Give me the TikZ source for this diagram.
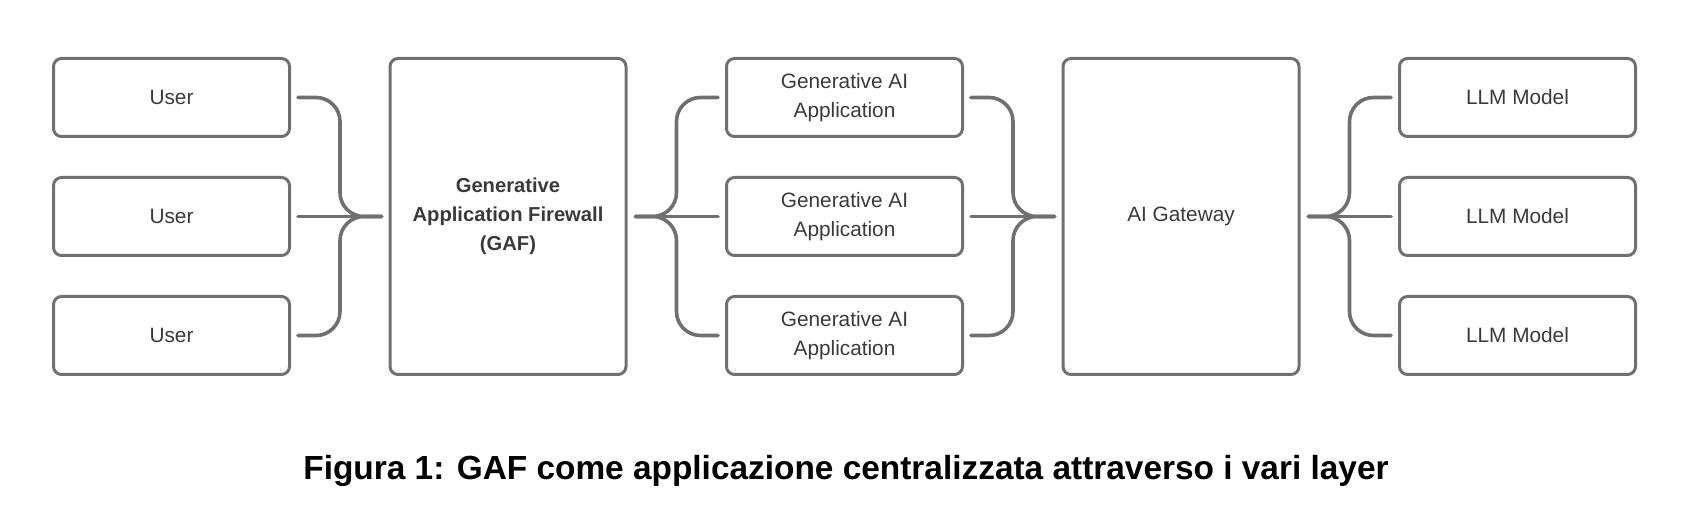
\documentclass[tikz,border=0pt]{standalone}
\usepackage{fontspec}
\setmainfont{Liberation Sans}
\usetikzlibrary{positioning}
\definecolor{boxgray}{HTML}{707070}
\definecolor{txtgray}{HTML}{3A3A3A}
\begin{document}
\begin{tikzpicture}[x=0.5pt, y=0.5pt, line join=round, line cap=round,
	box/.style={draw=boxgray, line width=1.5pt, rounded corners=4pt, minimum width=118pt, minimum height=39pt, align=center, text=txtgray, font=\fontsize{10.4}{14.6}\selectfont},
	bigbox/.style={box, minimum height=158pt},
	link/.style={draw=boxgray, line width=1.8pt, rounded corners=12pt}]
	\useasboundingbox (0,0) rectangle (1692,508);
	% colonne di box
	\node[box] (u1) at (171.5,410.5) {User};
	\node[box, below=19pt of u1] (u2) {User};
	\node[box, below=19pt of u2] (u3) {User};
	\node[bigbox, right=48.75pt of u2, font=\bfseries\fontsize{10.1}{14.6}\selectfont] (gaf) {Generative\\Application Firewall\\(GAF)};
	\node[box, right=48.75pt of gaf] (a2) {Generative AI\\Application};
	\node[box, above=19pt of a2] (a1) {Generative AI\\Application};
	\node[box, below=19pt of a2] (a3) {Generative AI\\Application};
	\node[bigbox, right=48.75pt of a2] (gw) {AI Gateway};
	\node[box, right=48.75pt of gw] (m2) {LLM Model};
	\node[box, above=19pt of m2] (m1) {LLM Model};
	\node[box, below=19pt of m2] (m3) {LLM Model};
	% graffe
	\foreach \i in {1,3}{
		\draw[link] ([xshift=3.5pt]u\i.east) -| ([xshift=24.5pt]u2.east) -- ([xshift=-3.5pt]gaf.west);
		\draw[link] ([xshift=4pt]gaf.east) -- ([xshift=24.5pt]gaf.east) |- ([xshift=-3.5pt]a\i.west);
		\draw[link] ([xshift=3.5pt]a\i.east) -| ([xshift=24.5pt]a2.east) -- ([xshift=-3.5pt]gw.west);
		\draw[link] ([xshift=4pt]gw.east) -- ([xshift=24.5pt]gw.east) |- ([xshift=-3.5pt]m\i.west);
	}
	\draw[link] ([xshift=3.5pt]u2.east) -- ([xshift=-3.5pt]gaf.west);
	\draw[link] ([xshift=4pt]gaf.east) -- ([xshift=-3.5pt]a2.west);
	\draw[link] ([xshift=3.5pt]a2.east) -- ([xshift=-3.5pt]gw.west);
	\draw[link] ([xshift=4pt]gw.east) -- ([xshift=-3.5pt]m2.west);
	\node[font=\bfseries\fontsize{16.7}{19}\selectfont] (caption) at (846,37) {Figura 1: GAF come applicazione centralizzata attraverso i vari layer};
\end{tikzpicture}
\end{document}
